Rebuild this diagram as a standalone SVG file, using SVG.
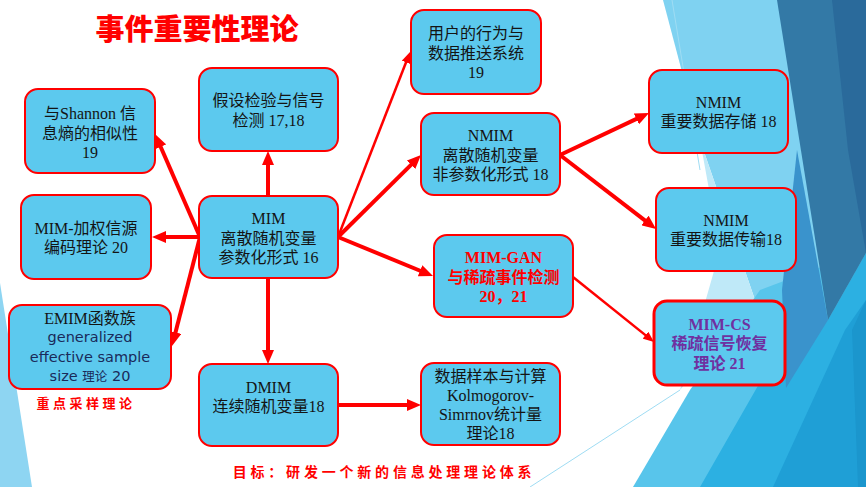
<svg xmlns="http://www.w3.org/2000/svg" width="866" height="487" viewBox="0 0 866 487">
<style>
.box{fill:#5CC9EE;stroke:#ff0000;stroke-width:2}
.t{font-family:"Liberation Serif","Noto Sans CJK SC",serif;font-size:16px;fill:#141414;text-anchor:middle}
.s{font-family:"DejaVu Sans","Noto Sans CJK SC",sans-serif;font-size:14.5px;fill:#1a2a5a;text-anchor:middle}
.red{fill:#ff0000;font-weight:bold}
.pur{fill:#7030a0;font-weight:bold}
.cal{font-family:"Noto Sans CJK SC",sans-serif;font-weight:bold;fill:#ff0000;font-size:13px;letter-spacing:3.5px;text-anchor:middle}
.c{stroke:#ff0000;stroke-width:4;fill:none}
.cn{stroke:#ff0000;stroke-width:2.5;fill:none}
</style>
<defs>
<marker id="ah" markerUnits="userSpaceOnUse" markerWidth="14" markerHeight="12" refX="6" refY="6" orient="auto"><path d="M0,0 L14,6 L0,12 z" fill="#ff0000"/></marker>
<marker id="ahs" markerUnits="userSpaceOnUse" markerWidth="11" markerHeight="9" refX="6" refY="4.5" orient="auto"><path d="M0,0 L11,4.5 L0,9 z" fill="#ff0000"/></marker>
</defs>
<rect width="866" height="487" fill="#ffffff"/>
<g id="background">
<polygon points="0,283 32,487 0,487" fill="#8ed5f2"/>
<polygon points="663,0 790,0 830,320 755,300 700,140" fill="#7fd2f1"/>
<polygon points="700,140 755,300 680,390 720,250" fill="#bfe9f8"/>
<polygon points="633,487 690,390 760,290 866,250 866,487" fill="#58c5eb"/>
<polygon points="700,487 790,330 828,320 866,253 866,487" fill="#2cb0e2"/>
<polygon points="797,150 828,320 786,388 782,290" fill="#3a93cc"/>
<polygon points="773,487 845,330 866,300 866,487" fill="#1f9fd6"/>
<polygon points="852,330 866,300 866,487 858,487" fill="#1b96cd"/>
<polygon points="777,0 866,0 866,253 828,320" fill="#3379a6"/>
<polygon points="832,0 866,0 866,253 848,150" fill="#2a6a9b"/>
<line x1="530" y1="487" x2="680" y2="390" stroke="#9fdcf3" stroke-width="1"/>
<line x1="672" y1="0" x2="700" y2="170" stroke="#9fdcf3" stroke-width="1"/>
</g>
<g id="connectors">
<line class="c" x1="268" y1="196" x2="268" y2="159" marker-end="url(#ah)"/>
<line class="c" x1="200" y1="237" x2="158.2" y2="141.3" marker-end="url(#ah)"/>
<line class="c" x1="200" y1="237" x2="160" y2="237" marker-end="url(#ah)"/>
<line class="c" x1="200" y1="237" x2="174" y2="338.2" marker-end="url(#ah)"/>
<line class="c" x1="268" y1="278" x2="268" y2="356" marker-end="url(#ah)"/>
<line class="c" x1="338" y1="405" x2="413" y2="405" marker-end="url(#ah)"/>
<line class="cn" x1="338" y1="237" x2="408.2" y2="56.7" marker-end="url(#ahs)"/>
<line class="c" x1="338" y1="237" x2="415.3" y2="160.6" marker-end="url(#ah)"/>
<line class="c" x1="338" y1="237" x2="425.6" y2="273" marker-end="url(#ah)"/>
<line class="c" x1="560" y1="155" x2="641.8" y2="116.4" marker-end="url(#ah)"/>
<line class="c" x1="560" y1="155" x2="649.7" y2="224.1" marker-end="url(#ah)"/>
<line class="cn" x1="573" y1="277" x2="650.1" y2="338.9" marker-end="url(#ahs)"/>
</g>
<text x="197" y="40" font-family="'Noto Sans CJK SC',sans-serif" font-size="29" font-weight="900" fill="#ff0000" text-anchor="middle">事件重要性理论</text>
<g id="n-shannon">
<rect class="box" x="25" y="89" width="130" height="84" rx="13"/>
<text class="t" x="90" y="119">与Shannon 信</text>
<text class="t" x="90" y="139">息熵的相似性</text>
<text class="t" x="90" y="158">19</text>
</g>
<g id="n-hypo">
<rect class="box" x="199" y="68" width="139" height="83" rx="13"/>
<text class="t" x="268.5" y="106">假设检验与信号</text>
<text class="t" x="268.5" y="126">检测 17,18</text>
</g>
<g id="n-weight">
<rect class="box" x="21" y="195" width="130" height="84" rx="13"/>
<text class="t" x="86" y="234">MIM-加权信源</text>
<text class="t" x="86" y="253">编码理论 20</text>
</g>
<g id="n-mim">
<rect class="box" x="199" y="196" width="139" height="82" rx="13"/>
<text class="t" x="268.5" y="224">MIM</text>
<text class="t" x="268.5" y="244">离散随机变量</text>
<text class="t" x="268.5" y="263">参数化形式 16</text>
</g>
<g id="n-emim">
<rect class="box" x="9" y="305" width="162" height="84" rx="13"/>
<text class="t" x="90" y="324">EMIM函数族</text>
<text class="s" x="90" y="342">generalized</text>
<text class="s" x="90" y="362">effective sample</text>
<text class="s" x="90" y="381">size <tspan font-family="'Noto Sans CJK SC',sans-serif" font-size="12.5">理论</tspan> 20</text>
</g>
<text class="cal" x="86" y="408">重点采样理论</text>
<g id="n-dmim">
<rect class="box" x="199" y="364" width="139" height="82" rx="13"/>
<text class="t" x="268.5" y="393">DMIM</text>
<text class="t" x="268.5" y="412">连续随机变量18</text>
</g>
<g id="n-ks">
<rect class="box" x="421" y="363" width="139" height="82" rx="13"/>
<text class="t" x="490.5" y="382">数据样本与计算</text>
<text class="t" x="490.5" y="401">Kolmogorov-</text>
<text class="t" x="490.5" y="420">Simrnov统计量</text>
<text class="t" x="490.5" y="439">理论18</text>
</g>
<g id="n-user">
<rect class="box" x="411" y="10" width="130" height="84" rx="13"/>
<text class="t" x="476" y="39">用户的行为与</text>
<text class="t" x="476" y="59">数据推送系统</text>
<text class="t" x="476" y="78">19</text>
</g>
<g id="n-nmim">
<rect class="box" x="421" y="113" width="139" height="82" rx="13"/>
<text class="t" x="490.5" y="141">NMIM</text>
<text class="t" x="490.5" y="161">离散随机变量</text>
<text class="t" x="490.5" y="180">非参数化形式 18</text>
</g>
<g id="n-store">
<rect class="box" x="649" y="70" width="139" height="83" rx="13"/>
<text class="t" x="718.5" y="108">NMIM</text>
<text class="t" x="718.5" y="127">重要数据存储 18</text>
</g>
<g id="n-trans">
<rect class="box" x="656" y="188" width="140" height="83" rx="13"/>
<text class="t" x="726" y="226">NMIM</text>
<text class="t" x="726" y="245">重要数据传输18</text>
</g>
<g id="n-gan">
<rect class="box" x="434" y="235" width="139" height="82" rx="13"/>
<text class="t red" x="503.5" y="263">MIM-GAN</text>
<text class="t red" x="503.5" y="283">与稀疏事件检测</text>
<text class="t red" x="503.5" y="302">20，21</text>
</g>
<g id="n-cs">
<rect class="box" x="654" y="301" width="131" height="84" rx="13" style="stroke-width:3"/>
<text class="t pur" x="719.5" y="330">MIM-CS</text>
<text class="t pur" x="719.5" y="349">稀疏信号恢复</text>
<text class="t pur" x="719.5" y="369">理论 21</text>
</g>
<text class="cal" x="384" y="477" style="font-size:14px;letter-spacing:3.8px">目标：研发一个新的信息处理理论体系</text>
</svg>
